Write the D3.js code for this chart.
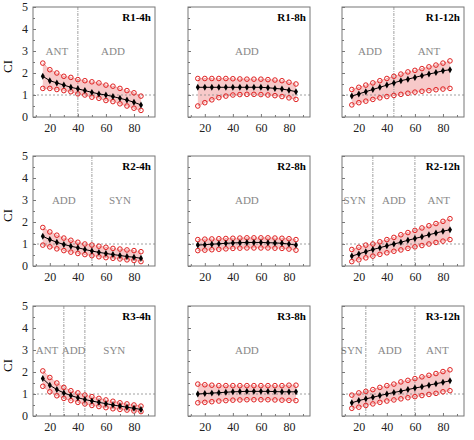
<!DOCTYPE html><html><head><meta charset="utf-8">
<script src="https://cdn.jsdelivr.net/npm/d3@7"></script>
<style>body{margin:0;background:#fff} svg text{font-family:'Liberation Serif','Times New Roman',serif}</style></head><body>
<svg id="c" width="474" height="440"></svg>
<script>
const xs=[15,20,25,30,35,40,45,50,55,60,65,70,75,80,85];
const titles=["R1-4h","R1-8h","R1-12h","R2-4h","R2-8h","R2-12h","R3-4h","R3-8h","R3-12h"];
const mids=[
[1.85,1.65,1.55,1.45,1.35,1.28,1.2,1.12,1.05,1.0,0.93,0.85,0.77,0.67,0.55],
[1.35,1.35,1.35,1.35,1.35,1.35,1.35,1.35,1.35,1.35,1.33,1.3,1.27,1.22,1.15],
[0.95,1.05,1.15,1.25,1.35,1.45,1.55,1.65,1.72,1.8,1.88,1.95,2.02,2.1,2.15],
[1.35,1.2,1.08,0.98,0.9,0.83,0.75,0.68,0.62,0.57,0.52,0.48,0.43,0.4,0.35],
[0.95,0.97,0.99,1.01,1.03,1.05,1.06,1.07,1.07,1.07,1.06,1.05,1.03,1.0,0.95],
[0.45,0.55,0.65,0.75,0.83,0.92,1.0,1.08,1.17,1.25,1.33,1.42,1.5,1.58,1.65],
[1.7,1.4,1.2,1.05,0.93,0.83,0.75,0.68,0.62,0.56,0.5,0.45,0.4,0.35,0.3],
[1.0,1.02,1.04,1.06,1.08,1.1,1.11,1.12,1.12,1.12,1.12,1.11,1.1,1.1,1.1],
[0.6,0.7,0.78,0.85,0.93,1.0,1.07,1.13,1.2,1.27,1.33,1.4,1.47,1.53,1.6]];
const uppers=[
[2.45,2.15,2.0,1.85,1.8,1.7,1.65,1.6,1.55,1.45,1.4,1.3,1.2,1.1,0.95],
[1.75,1.75,1.75,1.75,1.75,1.74,1.73,1.72,1.72,1.72,1.7,1.68,1.65,1.58,1.5],
[1.25,1.35,1.45,1.55,1.65,1.75,1.85,1.95,2.05,2.12,2.2,2.28,2.36,2.45,2.55],
[1.75,1.55,1.4,1.27,1.17,1.08,1.0,0.95,0.9,0.85,0.8,0.77,0.73,0.7,0.65],
[1.2,1.22,1.23,1.24,1.25,1.26,1.27,1.28,1.28,1.28,1.28,1.27,1.26,1.24,1.2],
[0.75,0.85,0.95,1.0,1.1,1.2,1.3,1.42,1.52,1.62,1.73,1.83,1.93,2.03,2.15],
[2.05,1.75,1.5,1.3,1.15,1.05,0.95,0.88,0.8,0.73,0.67,0.6,0.55,0.5,0.45],
[1.45,1.42,1.4,1.38,1.38,1.38,1.38,1.38,1.38,1.38,1.38,1.38,1.38,1.4,1.4],
[0.95,1.05,1.12,1.2,1.3,1.38,1.45,1.55,1.62,1.7,1.78,1.85,1.93,2.02,2.1]];
const lowers=[
[1.3,1.3,1.25,1.2,1.15,1.05,1.0,0.9,0.85,0.75,0.7,0.6,0.5,0.4,0.3],
[0.5,0.65,0.78,0.88,0.95,1.0,1.02,1.03,1.03,1.02,1.0,0.97,0.93,0.87,0.8],
[0.55,0.65,0.72,0.8,0.87,0.93,0.98,1.03,1.08,1.13,1.17,1.2,1.24,1.27,1.3],
[0.95,0.87,0.78,0.7,0.63,0.57,0.52,0.47,0.42,0.38,0.35,0.32,0.28,0.25,0.2],
[0.7,0.72,0.74,0.76,0.78,0.8,0.81,0.82,0.82,0.82,0.82,0.81,0.8,0.77,0.72],
[0.2,0.28,0.37,0.45,0.53,0.6,0.67,0.73,0.8,0.87,0.93,1.0,1.07,1.13,1.2],
[1.35,1.1,0.92,0.8,0.7,0.62,0.55,0.48,0.43,0.38,0.33,0.3,0.27,0.23,0.2],
[0.6,0.62,0.65,0.68,0.7,0.72,0.73,0.74,0.74,0.74,0.74,0.73,0.72,0.71,0.7],
[0.35,0.4,0.48,0.55,0.62,0.68,0.73,0.78,0.83,0.88,0.93,0.98,1.03,1.1,1.15]];
const dividers=[[40],[],[45],[50],[],[30,60],[30,45],[],[25,60]];
const regionLabels=[[["ANT",25],["ADD",65]],[["ADD",50]],[["ADD",28],["ANT",70]],[["ADD",30],["SYN",70]],[["ADD",50]],[["SYN",17],["ADD",45],["ANT",77]],[["ANT",18],["ADD",37],["SYN",66]],[["ADD",50]],[["SYN",15],["ADD",42],["ANT",76]]];
const xTicks=[20,40,60,80], yTicks=[0,1,2,3,4,5];

const svg=d3.select("#c");
const colX=[33,188,342], rowY=[7,156,306], W=122, H=110;
titles.forEach((t,i)=>{
  const g=svg.append("g").attr("transform",`translate(${colX[i%3]},${rowY[Math.floor(i/3)]})`);
  const x=d3.scaleLinear().domain([8,95]).range([0,W]);
  const y=d3.scaleLinear().domain([0,5]).range([H,0]);
  const area=d3.area().x((d,j)=>x(xs[j])).y0((d,j)=>y(lowers[i][j])).y1(d=>y(d));
  g.append("path").attr("d",area(uppers[i])).attr("fill","#f7c9c9");
  g.append("line").attr("x1",0).attr("x2",W).attr("y1",y(1)).attr("y2",y(1)).attr("stroke","#888").attr("stroke-dasharray","2,2").attr("stroke-width",0.8);
  dividers[i].forEach(v=>g.append("line").attr("x1",x(v)).attr("x2",x(v)).attr("y1",0).attr("y2",H).attr("stroke","#888").attr("stroke-dasharray","3,1,1,1").attr("stroke-width",0.8));
  regionLabels[i].forEach(([s,v])=>g.append("text").attr("x",x(v)).attr("y",y(3)+4).attr("text-anchor","middle").attr("font-size",11).attr("fill","#888").text(s));
  const line=d3.line().x((d,j)=>x(xs[j])).y(d=>y(d));
  [uppers[i],lowers[i]].forEach(arr=>{
    g.append("path").attr("d",line(arr)).attr("fill","none").attr("stroke","#e88").attr("stroke-width",0.8).attr("stroke-dasharray","2,1");
    g.selectAll(null).data(arr).join("circle").attr("cx",(d,j)=>x(xs[j])).attr("cy",d=>y(d)).attr("r",2.3).attr("fill","none").attr("stroke","#e02020").attr("stroke-width",1);
  });
  g.append("path").attr("d",line(mids[i])).attr("fill","none").attr("stroke","#000").attr("stroke-width",1);
  g.selectAll(null).data(mids[i]).join("path").attr("transform",(d,j)=>`translate(${x(xs[j])},${y(d)})`).attr("d",d3.symbol(d3.symbolDiamond,14)()).attr("fill","#000");
  g.append("rect").attr("width",W).attr("height",H).attr("fill","none").attr("stroke","#777").attr("stroke-width",1);
  g.append("g").attr("transform",`translate(0,${H})`).call(d3.axisBottom(x).tickValues(xTicks).tickSize(-3).tickPadding(6));
  g.append("g").call(d3.axisLeft(y).tickValues(yTicks).tickSize(-3).tickPadding(5).tickFormat(i%3===0?d3.format("d"):()=>""));
  g.append("g").call(d3.axisLeft(y).tickValues(d3.range(0.5,5,1)).tickSize(-2).tickFormat(""));
  g.append("g").attr("transform",`translate(0,${H})`).call(d3.axisBottom(x).tickValues([10,30,50,70,90]).tickSize(-2).tickFormat(""));
  g.selectAll(".domain").remove();
  g.selectAll(".tick line").attr("stroke","#777");
  g.selectAll(".tick text").attr("font-family",null).attr("font-size",12).attr("fill","#222");
  g.append("text").attr("x",W-4).attr("y",14).attr("text-anchor","end").attr("font-size",11).attr("font-weight","bold").text(t);
  if(i%3===0) g.append("text").attr("transform",`translate(-21,${y(2.3)}) rotate(-90)`).attr("text-anchor","middle").attr("font-size",13).text("CI");
});
</script></body></html>
